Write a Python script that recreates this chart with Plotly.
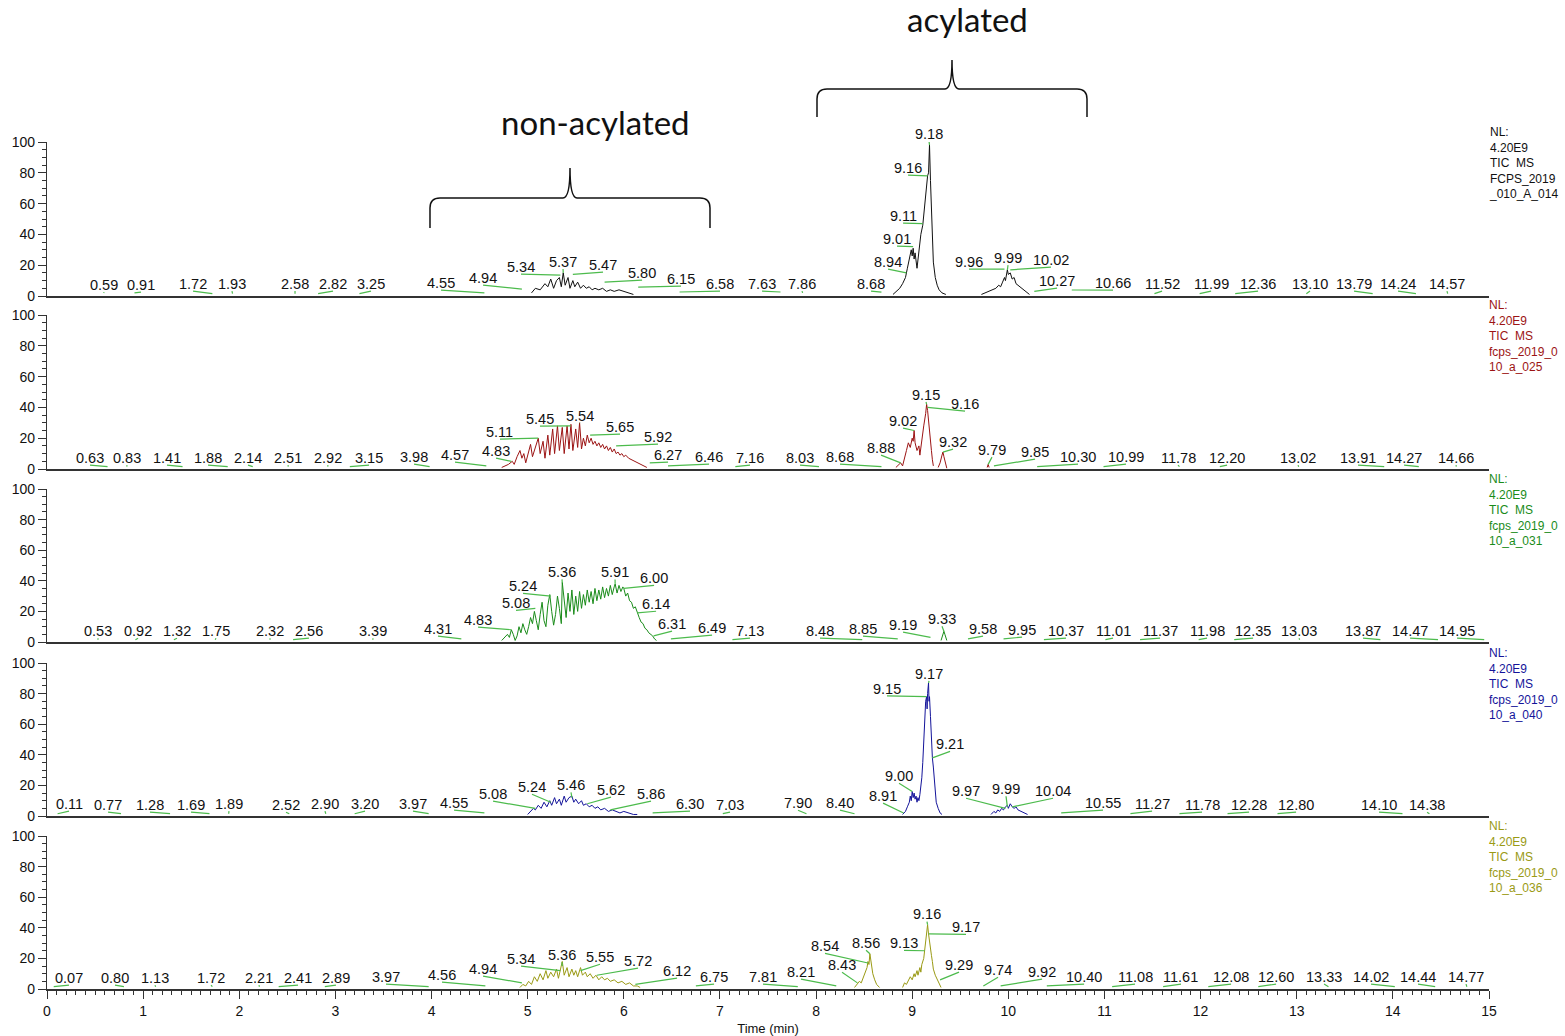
import plotly.graph_objects as go

# ---------------- data ----------------
# Chromatogram traces (time in min, relative abundance %), each a list of segments
trace1 = [
    ([5.04,5.08,5.13,5.18,5.21,5.24,5.27,5.30,5.33,5.35,5.37,5.39,5.42,5.44,5.47,5.49,5.52,5.55,5.58,5.61,5.64,5.67,5.70,5.74,5.78,5.82,5.86,5.90,5.95,6.00,6.05,6.10],
     [2,5,4,8,6,11,5,10,12,6,15,7,12,5,10,6,9,5,7,5,6,4,5,4,5,3,4,3,4,3,2,1]),
    ([8.80,8.84,8.87,8.90,8.93,8.95,8.97,8.99,9.00,9.01,9.02,9.03,9.05,9.07,9.09,9.11,9.13,9.15,9.16,9.17,9.18,9.19,9.20,9.21,9.22,9.24,9.26,9.28,9.31,9.35],
     [1,3,5,8,12,18,25,30,26,31,24,28,18,30,40,46,60,76,78,80,98,75,55,35,22,12,7,4,2,1]),
    ([9.72,9.76,9.80,9.84,9.87,9.90,9.92,9.94,9.96,9.97,9.99,10.00,10.02,10.04,10.06,10.08,10.10,10.13,10.16,10.19,10.22],
     [1,2,3,4,5,7,6,9,12,10,17,14,15,11,12,8,7,5,4,2,1]),
]
trace2 = [
    ([4.73,4.76,4.80,4.84,4.86,4.89,4.92,4.94,4.96,4.98,5.00,5.03,5.05,5.08,5.11,5.13,5.16,5.18,5.21,5.23,5.26,5.28,5.31,5.33,5.36,5.38,5.41,5.43,5.45,5.47,5.50,5.52,5.54,5.56,5.58,5.60,5.62,5.64,5.66,5.68,5.70,5.72,5.74,5.76,5.78,5.80,5.82,5.84,5.86,5.88,5.90,5.92,5.94,5.96,5.98,6.00,6.02,6.05,6.08,6.11,6.14,6.17,6.20,6.24],
     [1,2,3,5,3,8,12,7,10,4,9,16,8,14,20,10,18,7,22,9,26,10,28,12,27,10,28,13,29,12,26,14,30,13,20,15,22,17,20,16,18,15,17,14,16,13,15,12,14,11,13,10,11,9,10,8,9,7,6,5,4,3,2,1]),
    ([8.83,8.86,8.88,8.90,8.92,8.94,8.96,8.98,9.00,9.01,9.02,9.03,9.05,9.07,9.08,9.10,9.12,9.14,9.15,9.16,9.17,9.18,9.19,9.20,9.21,9.22],
     [1,3,4,2,8,12,17,14,20,18,25,17,12,15,9,20,28,36,42,38,30,27,20,12,6,2]),
    ([9.27,9.29,9.31,9.32,9.33,9.35,9.36], [1,4,9,11,8,2,0.5]),
    ([9.78,9.79,9.80], [1,3,1]),
]
trace3 = [
    ([4.73,4.76,4.79,4.81,4.83,4.85,4.87,4.89,4.91,4.93,4.95,4.97,4.99,5.01,5.03,5.05,5.07,5.09,5.11,5.13,5.15,5.17,5.19,5.21,5.23,5.25,5.27,5.29,5.31,5.33,5.35,5.36,5.38,5.40,5.42,5.44,5.46,5.48,5.50,5.52,5.54,5.56,5.58,5.60,5.62,5.64,5.66,5.68,5.70,5.72,5.74,5.76,5.78,5.80,5.82,5.84,5.86,5.88,5.90,5.91,5.93,5.95,5.97,5.99,6.00,6.02,6.04,6.06,6.08,6.10,6.12,6.14,6.16,6.18,6.20,6.22,6.24,6.26,6.28,6.30,6.32,6.34],
     [1,3,5,3,8,5,1,4,10,6,12,8,5,10,16,12,20,14,8,18,26,14,10,24,31,20,11,18,30,22,12,39,28,16,32,20,34,18,30,20,33,22,31,24,34,26,33,25,35,27,34,28,36,29,35,30,37,31,36,38,32,37,33,36,35,30,32,27,26,22,23,19,16,13,12,9,8,6,5,4,2,1]),
    ([9.30,9.32,9.33,9.34,9.36], [1,5,7,5,1]),
]
trace4 = [
    ([5.00,5.03,5.06,5.08,5.11,5.14,5.17,5.20,5.23,5.25,5.28,5.30,5.33,5.35,5.38,5.40,5.43,5.46,5.48,5.50,5.53,5.56,5.58,5.61,5.64,5.67,5.70,5.73,5.76,5.80,5.84,5.88,5.92,5.96,6.00,6.05,6.10,6.14],
     [1,3,5,4,7,5,9,6,10,7,12,8,11,7,13,9,12,13,9,11,8,10,7,8,6,7,5,6,4,5,3,4,3,2,3,2,1,1]),
    ([8.90,8.93,8.95,8.97,8.98,8.99,9.00,9.01,9.02,9.03,9.04,9.05,9.06,9.07,9.08,9.09,9.10,9.11,9.12,9.13,9.14,9.15,9.155,9.16,9.17,9.175,9.18,9.19,9.20,9.21,9.22,9.23,9.24,9.25,9.27,9.29,9.31],
     [1,3,6,9,13,10,16,12,15,11,13,9,12,10,14,18,25,35,50,65,75,78,70,80,87,75,78,65,48,38,32,22,15,9,5,2,1]),
    ([9.82,9.85,9.87,9.89,9.91,9.93,9.95,9.97,9.99,10.00,10.02,10.04,10.06,10.08,10.10,10.13,10.16,10.20],
     [1,3,2,4,3,5,4,6,7,5,8,6,5,6,4,3,2,1]),
]
trace5 = [
    ([4.92,4.95,4.98,5.01,5.04,5.07,5.10,5.13,5.16,5.19,5.21,5.24,5.27,5.30,5.32,5.34,5.36,5.38,5.41,5.43,5.46,5.48,5.50,5.52,5.55,5.57,5.60,5.62,5.65,5.68,5.71,5.74,5.77,5.80,5.83,5.86,5.90,5.94,5.98,6.02,6.06,6.10,6.14,6.17],
     [1,3,2,5,3,8,5,10,6,12,7,11,8,13,7,12,18,9,14,8,13,9,12,8,14,9,11,8,10,7,9,6,8,6,7,5,6,4,5,3,4,2,2,1]),
    ([8.40,8.43,8.45,8.47,8.49,8.51,8.53,8.54,8.55,8.56,8.57,8.58,8.59,8.61,8.63,8.66],
     [1,3,5,4,7,10,14,18,16,23,19,14,10,6,3,1]),
    ([8.90,8.92,8.94,8.96,8.98,9.00,9.02,9.03,9.05,9.06,9.08,9.09,9.10,9.12,9.13,9.14,9.15,9.16,9.17,9.18,9.19,9.20,9.21,9.22,9.24,9.26,9.28,9.30],
     [1,4,3,6,8,6,10,8,12,9,14,11,16,20,25,30,35,42,36,30,27,22,18,13,9,6,3,1]),
]

# Peak labels: retention time text, label centre (min, %), peak height at rt (%)
rt1 = ["0.59","0.91","1.72","1.93","2.58","2.82","3.25","4.55","4.94","5.34","5.37","5.47","5.80","6.15","6.58","7.63","7.86","8.68","8.94","9.01","9.11","9.16","9.18","9.96","9.99","10.02","10.27","10.66","11.52","11.99","12.36","13.10","13.79","14.24","14.57"]
lx1 = [0.593,0.978,1.519,1.924,2.580,2.975,3.370,4.099,4.536,4.931,5.368,5.784,6.190,6.595,7.001,7.438,7.854,8.572,8.749,8.842,8.905,8.957,9.175,9.591,9.997,10.444,10.507,11.089,11.599,12.109,12.598,13.138,13.596,14.054,14.563]
ly1 = [7.1,7.1,7.8,7.8,7.8,7.8,7.8,8.4,11.7,18.8,22.1,20.1,14.9,11.0,7.8,7.8,7.8,7.8,22.1,37.0,51.9,83.1,105.2,22.1,24.7,23.4,9.7,8.4,7.8,7.8,7.8,7.8,7.8,7.8,7.8]
py1 = [2,2,1.5,1.5,1.5,1.5,1.5,2,4.5,13.6,15,14,9,5.8,2.6,2.6,2,2.5,15,32,47,78,98,17.5,17,17,3,3.9,1.5,1.5,1.5,1.5,1.5,1.5,1.5]

rt2 = ["0.63","0.83","1.41","1.88","2.14","2.51","2.92","3.15","3.98","4.57","4.83","5.11","5.45","5.54","5.65","5.92","6.27","6.46","7.16","8.03","8.68","8.88","9.02","9.15","9.16","9.32","9.79","9.85","10.30","10.99","11.78","12.20","13.02","13.91","14.27","14.66"]
lx2 = [0.447,0.832,1.248,1.675,2.091,2.507,2.923,3.350,3.818,4.244,4.671,4.712,5.128,5.545,5.961,6.356,6.460,6.887,7.313,7.833,8.249,8.676,8.905,9.144,9.550,9.425,9.830,10.278,10.725,11.224,11.765,12.275,13.014,13.638,14.117,14.657]
ly2 = [7.1,7.1,7.1,7.1,7.1,7.1,7.1,7.1,7.8,9.1,11.7,24.0,32.5,34.4,27.3,20.8,9.1,7.8,7.1,7.1,7.8,13.6,31.2,48.1,42.2,17.5,12.3,11.0,7.8,7.8,7.1,7.1,7.1,7.1,7.1,7.1]
py2 = [1.5,1.5,1.5,1.5,1.5,1.5,1.5,1.5,1.5,2,5,20,28,30,22,15,4,2,1.5,1.5,1.5,4,25,42,40,11,3,2,1.5,1.5,1.5,1.5,1.5,1.5,1.5,1.5]

rt3 = ["0.53","0.92","1.32","1.75","2.32","2.56","3.39","4.31","4.83","5.08","5.24","5.36","5.91","6.00","6.14","6.31","6.49","7.13","8.48","8.85","9.19","9.33","9.58","9.95","10.37","11.01","11.37","11.98","12.35","13.03","13.87","14.47","14.95"]
lx3 = [0.531,0.947,1.352,1.758,2.320,2.725,3.391,4.067,4.484,4.879,4.952,5.357,5.909,6.315,6.336,6.502,6.918,7.313,8.041,8.488,8.905,9.310,9.737,10.143,10.600,11.089,11.578,12.067,12.546,13.024,13.690,14.179,14.668]
ly3 = [7.1,7.1,7.1,7.1,7.1,7.1,7.1,8.4,14.3,25.3,36.4,45.5,45.5,41.6,24.7,11.7,9.1,7.1,7.1,8.4,11.0,14.9,8.4,7.8,7.1,7.1,7.1,7.1,7.1,7.1,7.1,7.1,7.1]
py3 = [1.5,1.5,1.5,1.5,1.5,1.5,1.5,2,8,22,30,39,38,35,19,4,2,1.5,1.5,2,3,7,2,2,1.5,1.5,1.5,1.5,1.5,1.5,1.5,1.5,1.5]

rt4 = ["0.11","0.77","1.28","1.69","1.89","2.52","2.90","3.20","3.97","4.55","5.08","5.24","5.46","5.62","5.86","6.30","7.03","7.90","8.40","8.91","9.00","9.15","9.17","9.21","9.97","9.99","10.04","10.55","11.27","11.78","12.28","12.80","14.10","14.38"]
lx4 = [0.229,0.635,1.071,1.498,1.893,2.486,2.892,3.308,3.807,4.234,4.640,5.045,5.451,5.867,6.283,6.689,7.105,7.812,8.249,8.697,8.863,8.738,9.175,9.394,9.560,9.976,10.465,10.985,11.495,12.015,12.504,12.993,13.856,14.356]
ly4 = [7.8,7.1,7.1,7.1,7.8,7.1,7.8,7.8,7.8,8.4,14.3,18.8,20.1,16.9,14.3,7.8,7.1,8.4,8.4,13.0,26.0,83.1,92.9,46.8,16.2,17.5,16.2,8.4,7.8,7.1,7.1,7.1,7.1,7.1]
py4 = [1.5,1.5,1.5,1.5,1.5,1.5,1.5,1.5,1.5,2,5,9,12,8,4,2,1.5,1.5,1.5,2,16,78,87,38,5,6,6,2,1.5,1.5,1.5,1.5,1.5,1.5]

rt5 = ["0.07","0.80","1.13","1.72","2.21","2.41","2.89","3.97","4.56","4.94","5.34","5.36","5.55","5.72","6.12","6.75","7.81","8.21","8.43","8.54","8.56","9.13","9.16","9.17","9.29","9.74","9.92","10.40","11.08","11.61","12.08","12.60","13.33","14.02","14.44","14.77"]
lx5 = [0.229,0.707,1.123,1.706,2.205,2.611,3.006,3.526,4.109,4.536,4.931,5.357,5.753,6.148,6.554,6.939,7.448,7.843,8.270,8.093,8.520,8.915,9.154,9.560,9.487,9.893,10.351,10.788,11.318,11.796,12.317,12.785,13.284,13.773,14.262,14.761]
ly5 = [7.1,7.1,7.1,7.1,7.1,7.1,7.1,7.8,9.1,13.0,19.5,22.1,20.8,18.2,11.7,7.8,7.8,11.0,15.6,27.9,29.9,29.9,48.7,40.3,15.6,12.3,11.0,7.8,7.8,7.8,7.8,7.8,7.8,7.8,7.8,7.8]
py5 = [1.5,1.5,1.5,1.5,1.5,1.5,1.5,1.5,2,4,12,15,12,9,3,2,1.5,2,4,17,23,25,42,36,6,2,2,2,1.5,1.5,1.5,1.5,1.5,1.5,1.5,1.5]

# Instrument side labels
nl_text = [
    "NL:<br>4.20E9<br>TIC\u00a0 MS<br>FCPS_2019<br>_010_A_014",
    "NL:<br>4.20E9<br>TIC\u00a0 MS<br>fcps_2019_0<br>10_a_025",
    "NL:<br>4.20E9<br>TIC\u00a0 MS<br>fcps_2019_0<br>10_a_031",
    "NL:<br>4.20E9<br>TIC\u00a0 MS<br>fcps_2019_0<br>10_a_040",
    "NL:<br>4.20E9<br>TIC\u00a0 MS<br>fcps_2019_0<br>10_a_036",
]
colors = ["#111111", "#9c1414", "#1a8c1a", "#14149a", "#9a9a14"]
x_ticks = list(range(0, 16))
y_ticks = [0, 20, 40, 60, 80, 100]

# ---------------- layout helpers ----------------
W, H = 1565, 1036
PL, PR = 47, 1489          # plot area px (x)
PT, PB = 142, 989          # plot area px (y)
panel_px = [(142, 296), (315, 469), (489, 642), (663, 816), (836, 989)]
X_MAX, Y_MAX = 15, 100

def px2x(px):
    return (px - PL) / (PR - PL)

def px2y(py):
    return (PB - py) / (PB - PT)

traces = [trace1, trace2, trace3, trace4, trace5]
labels = [(rt1, lx1, ly1, py1), (rt2, lx2, ly2, py2), (rt3, lx3, ly3, py3),
          (rt4, lx4, ly4, py4), (rt5, lx5, ly5, py5)]

FONT = "Liberation Sans, Arial, sans-serif"
fig = go.Figure()
annotations = []

for i in range(5):
    xa = "x" if i == 0 else f"x{i+1}"
    ya = "y" if i == 0 else f"y{i+1}"
    top, bot = panel_px[i]
    d0, d1 = px2y(bot), px2y(top)
    # chromatogram
    xs, ys = [], []
    for seg_x, seg_y in traces[i]:
        xs += list(seg_x) + [None]
        ys += list(seg_y) + [None]
    fig.add_trace(go.Scatter(x=xs, y=ys, mode="lines", xaxis=xa, yaxis=ya,
                             line=dict(color=colors[i], width=1), hoverinfo="skip",
                             showlegend=False, cliponaxis=False))
    # leader lines
    rts, lxs, lys, pys = labels[i]
    gx, gy = [], []
    for r, lx, ly, pyk in zip(rts, lxs, lys, pys):
        gx += [float(r), lx, None]
        gy += [pyk, ly - 4.6, None]
    fig.add_trace(go.Scatter(x=gx, y=gy, mode="lines", xaxis=xa, yaxis=ya,
                             line=dict(color="#4cbb4c", width=1.2), hoverinfo="skip",
                             showlegend=False, cliponaxis=False))
    # label text (paper coordinates derived from the axis ranges so that labels
    # above 100 % are still drawn)
    for r, lx, ly in zip(rts, lxs, lys):
        annotations.append(dict(x=lx / X_MAX, y=d0 + (d1 - d0) * ly / Y_MAX,
                                xref="paper", yref="paper", text=r, showarrow=False,
                                xanchor="center", yanchor="middle",
                                font=dict(family=FONT, size=14.5, color="#111")))

layout = dict(
    width=W, height=H, paper_bgcolor="white", plot_bgcolor="white",
    margin=dict(l=PL, r=W - PR, t=PT, b=H - PB, pad=0, autoexpand=False),
    showlegend=False,
    font=dict(family=FONT, color="#111"),
)

for i in range(5):
    top, bot = panel_px[i]
    xk = "xaxis" if i == 0 else f"xaxis{i+1}"
    yk = "yaxis" if i == 0 else f"yaxis{i+1}"
    ya = "y" if i == 0 else f"y{i+1}"
    xa = "x" if i == 0 else f"x{i+1}"
    xd = dict(domain=[0, 1], range=[0, X_MAX], anchor=ya, showgrid=False, zeroline=False,
              showline=True, linecolor="#333", linewidth=1.6, fixedrange=True,
              automargin=False)
    if i > 0:
        xd["matches"] = "x"
    if i == 4:
        xd.update(tickmode="array", tickvals=x_ticks, ticks="outside", ticklen=8,
                  tickwidth=1, tickcolor="#333", showticklabels=True,
                  tickfont=dict(family=FONT, size=14, color="#111"),
                  minor=dict(dtick=0.1, tick0=0, ticks="outside", ticklen=4,
                             tickwidth=1, tickcolor="#333"),
                  title=dict(text="Time (min)", font=dict(family=FONT, size=13, color="#111"),
                             standoff=6))
    else:
        xd.update(showticklabels=False, ticks="")
    layout[xk] = xd
    layout[yk] = dict(domain=[px2y(bot), px2y(top)], range=[0, Y_MAX], anchor=xa,
                      tickmode="array", tickvals=y_ticks, ticks="outside", ticklen=8,
                      tickwidth=1, tickcolor="#333", showline=True, linecolor="#333",
                      linewidth=1.2, showgrid=False, zeroline=False, fixedrange=True,
                      automargin=False,
                      tickfont=dict(family=FONT, size=14, color="#111"),
                      minor=dict(dtick=5, tick0=0, ticks="outside", ticklen=4,
                                 tickwidth=1, tickcolor="#333"))

# right-hand instrument labels
for i in range(5):
    top, _ = panel_px[i]
    annotations.append(dict(x=px2x(PR - 2), y=px2y(top - 19), xref="paper", yref="paper",
                            xanchor="left", yanchor="top", align="left", showarrow=False,
                            text=nl_text[i], font=dict(family=FONT, size=12, color=colors[i])))

# group annotations
TITLE_FONT = "Lato, Open Sans, sans-serif"
annotations.append(dict(x=px2x(595), y=px2y(122), xref="paper", yref="paper", showarrow=False,
                        xanchor="center", yanchor="middle",
                        text="non-acylated", font=dict(family=TITLE_FONT, size=33, color="#111")))
annotations.append(dict(x=px2x(967), y=px2y(19), xref="paper", yref="paper", showarrow=False,
                        xanchor="center", yanchor="middle",
                        text="acylated", font=dict(family=TITLE_FONT, size=33, color="#111")))

layout["annotations"] = annotations
fig.update_layout(**layout)

def brace(x0, x1, xm, ybar, yend, ytip):
    pts = lambda x, y: f"{px2x(x):.5f},{px2y(y):.5f}"
    return (f"M {pts(x0, yend)} L {pts(x0, ybar + 10)} Q {pts(x0, ybar)} {pts(x0 + 10, ybar)} "
            f"L {pts(xm - 7, ybar)} Q {pts(xm, ybar)} {pts(xm, ytip)} "
            f"Q {pts(xm, ybar)} {pts(xm + 7, ybar)} L {pts(x1 - 10, ybar)} "
            f"Q {pts(x1, ybar)} {pts(x1, ybar + 10)} L {pts(x1, yend)}")

for b in [(430, 710, 570, 198, 228, 168), (817, 1087, 952, 89, 117, 60)]:
    fig.add_shape(type="path", path=brace(*b), xref="paper", yref="paper",
                  line=dict(color="#111", width=1.5))

fig.write_html("out.html")
